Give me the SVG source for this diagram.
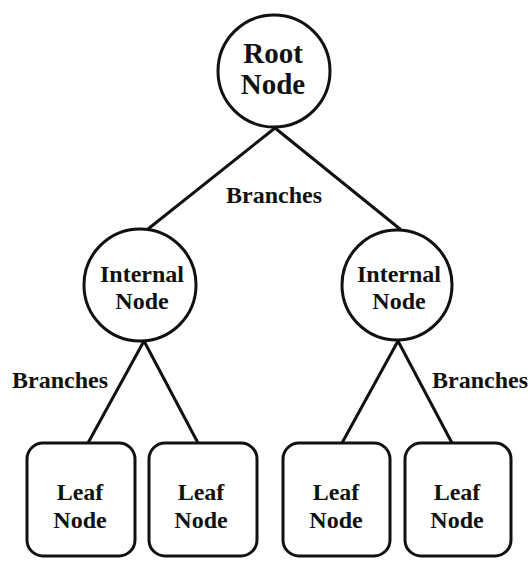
<svg xmlns="http://www.w3.org/2000/svg" width="532" height="562" viewBox="0 0 532 562">
<style>
.shape{fill:#fff;stroke:#111;stroke-width:3}
.edge{stroke:#111;stroke-width:3;fill:none;stroke-linecap:round}
text{font-family:'Liberation Serif','DejaVu Serif',serif;font-weight:bold;fill:#111;text-anchor:middle}
.big{font-size:29px}
.mid{font-size:24px}
</style>
<rect width="532" height="562" fill="#fff"/>
<g id="connectors">
<line class="edge" x1="275" y1="128" x2="148" y2="229"/>
<line class="edge" x1="275" y1="128" x2="400" y2="229"/>
<line class="edge" x1="144" y1="341" x2="88" y2="443"/>
<line class="edge" x1="144" y1="341" x2="198" y2="443"/>
<line class="edge" x1="398" y1="341" x2="342" y2="443"/>
<line class="edge" x1="398" y1="341" x2="452" y2="443"/>
</g>
<g id="root">
<circle class="shape" cx="274" cy="71" r="56"/>
<text class="big" x="273" y="63">Root</text>
<text class="big" x="273" y="94">Node</text>
</g>
<g id="internal-left">
<circle class="shape" cx="140" cy="285" r="56"/>
<text class="mid" x="142" y="282">Internal</text>
<text class="mid" x="142" y="309">Node</text>
</g>
<g id="internal-right">
<circle class="shape" cx="397" cy="285" r="55"/>
<text class="mid" x="399" y="282">Internal</text>
<text class="mid" x="399" y="309">Node</text>
</g>
<g id="leaf-1">
<rect class="shape" x="27" y="443" width="108" height="113" rx="16"/>
<text class="mid" x="80" y="500">Leaf</text>
<text class="mid" x="80" y="528">Node</text>
</g>
<g id="leaf-2">
<rect class="shape" x="149" y="443" width="108" height="113" rx="16"/>
<text class="mid" x="201" y="500">Leaf</text>
<text class="mid" x="201" y="528">Node</text>
</g>
<g id="leaf-3">
<rect class="shape" x="283" y="443" width="107" height="113" rx="16"/>
<text class="mid" x="336" y="500">Leaf</text>
<text class="mid" x="336" y="528">Node</text>
</g>
<g id="leaf-4">
<rect class="shape" x="405" y="443" width="106" height="113" rx="16"/>
<text class="mid" x="457" y="500">Leaf</text>
<text class="mid" x="457" y="528">Node</text>
</g>
<g id="labels">
<text class="mid" x="274" y="203">Branches</text>
<text class="mid" x="60" y="388">Branches</text>
<text class="mid" x="480" y="388">Branches</text>
</g>
</svg>
